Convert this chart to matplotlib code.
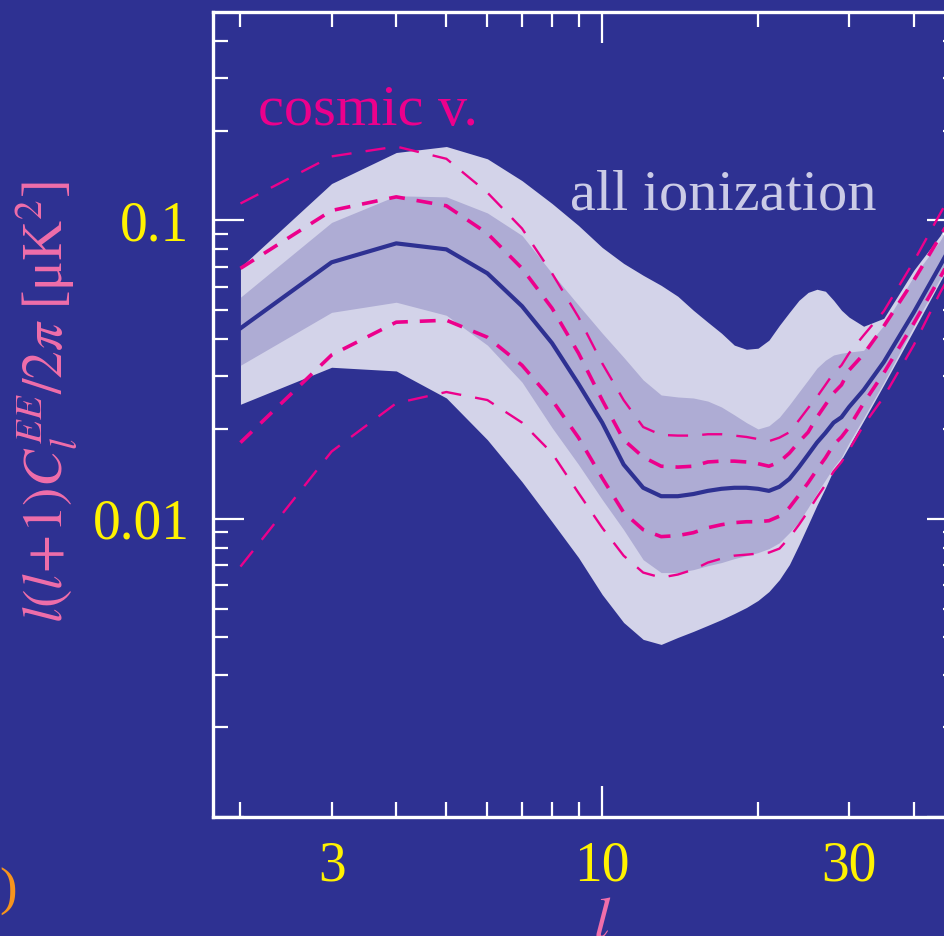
import matplotlib
matplotlib.use('Agg')
import matplotlib.pyplot as plt
from matplotlib.ticker import FixedLocator, FixedFormatter, FuncFormatter

# multipoles
ell = [2, 3, 4, 5, 6, 7, 8, 9, 10, 11, 12, 13, 14, 15, 16, 17, 18, 19, 20,
       21, 22, 23, 24, 25, 26, 27, 28, 29, 30, 32, 35, 40, 45, 50]

# "all ionization" bands (outer = light, inner = darker)
outer_hi = [0.0697, 0.133, 0.169, 0.177, 0.161, 0.136, 0.114, 0.0962, 0.0812, 0.0718,
            0.0655, 0.0606, 0.0557, 0.0500, 0.0456, 0.0419, 0.0382, 0.0370, 0.0373,
            0.0397, 0.0445, 0.0492, 0.0540, 0.0574, 0.0588, 0.0579, 0.0540, 0.0500,
            0.0474, 0.0442, 0.0470, 0.0681, 0.0891, 0.124]
mid_hi = [0.0553, 0.0985, 0.121, 0.120, 0.106, 0.0891, 0.0665, 0.0520, 0.0419, 0.0348,
          0.0292, 0.0260, 0.0256, 0.0254, 0.0248, 0.0237, 0.0223, 0.0210, 0.0200,
          0.0205, 0.0219, 0.0241, 0.0266, 0.0292, 0.0320, 0.0340, 0.0354, 0.0359,
          0.0362, 0.0367, 0.0445, 0.0650, 0.0857, 0.119]
model = [0.0435, 0.0724, 0.0838, 0.0800, 0.0665, 0.0516, 0.0388, 0.0283, 0.0210, 0.0152,
         0.0127, 0.0119, 0.0119, 0.0121, 0.0124, 0.0126, 0.0127, 0.0127, 0.0126,
         0.0124, 0.0128, 0.0136, 0.0149, 0.0164, 0.0180, 0.0194, 0.0210, 0.0219,
         0.0237, 0.0270, 0.0335, 0.0492, 0.0707, 0.0985]
mid_lo = [0.0327, 0.0492, 0.0532, 0.0481, 0.0382, 0.0287, 0.0202, 0.0152, 0.0116, 0.00919,
          0.00729, 0.00660, 0.00660, 0.00675, 0.00696, 0.00713, 0.00735, 0.00752, 0.00770,
          0.00794, 0.00831, 0.00898, 0.00977, 0.0109, 0.0122, 0.0135, 0.0149, 0.0161,
          0.0180, 0.0218, 0.0287, 0.0442, 0.0640, 0.0891]
outer_lo = [0.0242, 0.0322, 0.0313, 0.0254, 0.0184, 0.0133, 0.00977, 0.00741, 0.00557, 0.00449,
            0.00394, 0.00379, 0.00400, 0.00419, 0.00439, 0.00459, 0.00481, 0.00504, 0.00532,
            0.00570, 0.00625, 0.00702, 0.00818, 0.00955, 0.0111, 0.0127, 0.0146, 0.0158,
            0.0175, 0.0213, 0.0281, 0.0429, 0.0625, 0.0871]

# cosmic variance limits (dashed)
cv2_hi = [0.114, 0.164, 0.177, 0.161, 0.124, 0.0940, 0.0665, 0.0474, 0.0332, 0.0250,
          0.0203, 0.0191, 0.0190, 0.0190, 0.0192, 0.0192, 0.0190, 0.0188, 0.0185,
          0.0182, 0.0187, 0.0195, 0.0214, 0.0235, 0.0256, 0.0281, 0.0308, 0.0327,
          0.0359, 0.0412, 0.0496, 0.0729, 0.1055, 0.147]
cv1_hi = [0.0691, 0.108, 0.120, 0.112, 0.0905, 0.0691, 0.0508, 0.0359, 0.0250, 0.0184,
          0.0161, 0.0150, 0.0149, 0.0150, 0.0155, 0.0156, 0.0156, 0.0155, 0.0153,
          0.0150, 0.0155, 0.0166, 0.0181, 0.0195, 0.0219, 0.0241, 0.0264, 0.0281,
          0.0315, 0.0356, 0.0442, 0.0630, 0.0884, 0.123]
cv1_lo = [0.0180, 0.0354, 0.0456, 0.0463, 0.0406, 0.0327, 0.0250, 0.0187, 0.0137, 0.0105,
          0.00919, 0.00871, 0.00878, 0.00898, 0.00933, 0.00955, 0.00970, 0.00977, 0.00977,
          0.00985, 0.0102, 0.0109, 0.0120, 0.0132, 0.0146, 0.0160, 0.0177, 0.0188,
          0.0203, 0.0244, 0.0308, 0.0452, 0.0645, 0.0898]
cv2_lo = [0.00691, 0.0168, 0.0244, 0.0266, 0.0250, 0.0210, 0.0166, 0.0122, 0.00933, 0.00752,
          0.00660, 0.00635, 0.00650, 0.00675, 0.00713, 0.00735, 0.00752, 0.00758, 0.00764,
          0.00770, 0.00794, 0.00864, 0.00955, 0.0106, 0.0118, 0.0130, 0.0144, 0.0155,
          0.0170, 0.0206, 0.0256, 0.0382, 0.0574, 0.0800]

bg = '#2E3192'
light = '#D3D3E9'
medium = '#AEACD4'
magenta = '#EC008C'
pink = '#F06EAA'
yellow = '#FFF200'

plt.rcParams['font.family'] = ['Liberation Serif', 'DejaVu Serif']
plt.rcParams['mathtext.fontset'] = 'stix'

fig = plt.figure(figsize=(9.45, 9.36), dpi=100, facecolor=bg)
ax = fig.add_axes([213 / 945, 119 / 936, 745 / 945, 805 / 936])
ax.set_facecolor(bg)

ax.fill_between(ell, outer_lo, outer_hi, color=light, lw=0, zorder=1)
ax.fill_between(ell, mid_lo, mid_hi, color=medium, lw=0, zorder=2)
ax.plot(ell, model, color=bg, lw=3, zorder=3)

ax.plot(ell, cv2_hi, color=magenta, lw=1.7, dashes=(8.5, 6), zorder=4)
ax.plot(ell, cv2_lo, color=magenta, lw=1.7, dashes=(8.5, 6), zorder=4)
ax.plot(ell, cv1_hi, color=magenta, lw=2.6, dashes=(4.4, 3.3), zorder=4)
ax.plot(ell, cv1_lo, color=magenta, lw=2.6, dashes=(4.4, 3.3), zorder=4)

ax.set_xscale('log')
ax.set_yscale('log')
ax.set_xlim(1.77, 48.7)
ax.set_ylim(1e-3, 0.5)

ax.xaxis.set_major_locator(FixedLocator([10]))
ax.xaxis.set_major_formatter(FixedFormatter(['10']))
ax.xaxis.set_minor_locator(FixedLocator([2, 3, 4, 5, 6, 7, 8, 9, 20, 30, 40]))
ax.xaxis.set_minor_formatter(FuncFormatter(lambda v, p: '%d' % v if v in (3, 30) else ''))

ax.yaxis.set_major_locator(FixedLocator([0.001, 0.01, 0.1]))
ax.yaxis.set_major_formatter(FixedFormatter(['', '0.01', '0.1']))
ax.yaxis.set_minor_locator(FixedLocator([k * 1e-3 for k in range(2, 10)] +
                                        [k * 1e-2 for k in range(2, 10)] +
                                        [0.2, 0.3, 0.4]))
ax.yaxis.set_minor_formatter(FuncFormatter(lambda v, p: ''))

ax.tick_params(which='both', direction='in', top=True, right=True,
               color='white', labelcolor=yellow, labelsize=40, pad=17)
ax.tick_params(which='major', length=22, width=1.6)
ax.tick_params(which='minor', length=11, width=1.6)
for s in ax.spines.values():
    s.set_color('white')
    s.set_linewidth(2.4)

fig.text(258 / 945, (936 - 125) / 936, 'cosmic v.', color=magenta, fontsize=42,
         ha='left', va='baseline')
fig.text(570 / 945, (936 - 210) / 936, 'all ionization', color='#CBCBE6', fontsize=42,
         ha='left', va='baseline')

fig.text(46 / 945, (936 - 402) / 936, r'$l(l\!+\!1)C_l^{EE}/2\pi$ [μK$^2$]',
         color=pink, fontsize=40, rotation=90, ha='center', va='center')
fig.text(602 / 945, (936 - 938) / 936, r'$l$', color=pink, fontsize=42,
         ha='center', va='baseline')
fig.text(18 / 945, (936 - 904) / 936, '(b)', color='#F7941D', fontsize=38,
         ha='right', va='baseline')

fig.savefig('out.png', dpi=100, facecolor=bg)
